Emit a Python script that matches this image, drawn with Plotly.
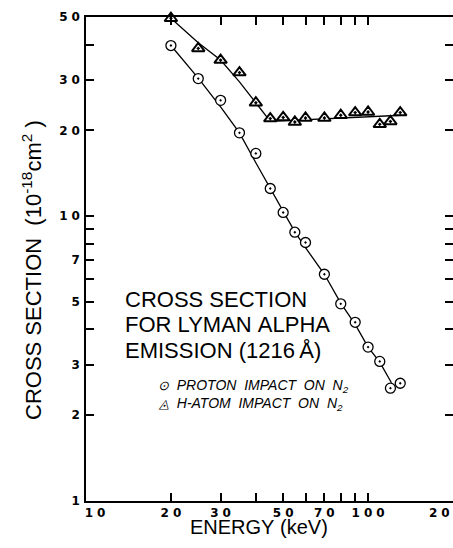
import math
import plotly.graph_objects as go

# Lyman-alpha emission cross sections (1e-18 cm^2) versus impact energy (keV)
energy_kev = [20, 25, 30, 35, 40, 45, 50, 55, 60, 70, 80, 90, 100, 110, 120, 130]
proton_xs = [39.7, 30.4, 25.5, 19.6, 16.6, 12.5, 10.3, 8.78, 8.08, 6.25, 4.92, 4.24, 3.47, 3.09, 2.49, 2.59]
h_atom_xs = [49.5, 38.8, 35.3, 31.9, 25.0, 22.0, 22.2, 21.4, 22.1, 22.1, 22.6, 23.1, 23.2, 21.0, 21.5, 23.1]

# Smooth curves drawn through each data set
proton_fit_kev = [20, 25, 30, 35, 40, 45, 50, 55, 60, 70, 80, 90, 100, 110, 121]
proton_fit_xs = [39.7, 30.5, 24.2, 19.6, 15.4, 12.5, 10.3, 8.8, 7.75, 6.25, 4.95, 4.17, 3.47, 3.07, 2.6]
h_fit_kev = [20, 25, 30, 35, 40, 45, 131]
h_fit_xs = [49.5, 40.6, 35.3, 29.6, 25.0, 21.5, 22.6]

# Axis ticks
x_tick_vals = [10, 20, 30, 50, 70, 100, 200]
x_tick_labels = ["10", "20", "30", "50", "70", "100", "200"]
x_minor_vals = [40, 60, 80, 90]
y_tick_vals = [1, 2, 3, 5, 7, 10, 20, 30, 50]
y_tick_labels = ["1", "2", "3", "5", "7", "10", "20", "30", "50"]
y_minor_vals = [4, 6, 8, 9, 40]

GAP = "\u2004"
NB = "\u00a0"


def spaced(label):
    # wide, hand-lettered look for the numerals
    return GAP.join(label)


# the end labels sit a little inside the frame corners
x_text = [spaced(t) for t in x_tick_labels]
x_text[0] = "\u2002" * 3 + x_text[0]
x_text[-1] = ""
y_text = [spaced(t) for t in y_tick_labels]

W, H = 453, 548
L, R, T, B = 86, 0, 17, 47
PW, PH = W - L - R, H - T - B


def px(xp):
    return (xp - L) / PW


def py(yp):
    return (H - B - yp) / PH


fig = go.Figure()

fig.add_trace(go.Scatter(
    x=proton_fit_kev, y=proton_fit_xs, mode="lines",
    line=dict(color="black", width=1.3), yaxis="y", showlegend=False,
))
fig.add_trace(go.Scatter(
    x=h_fit_kev, y=h_fit_xs, mode="lines",
    line=dict(color="black", width=1.3), yaxis="y", showlegend=False,
))
fig.add_trace(go.Scatter(
    x=energy_kev, y=proton_xs, mode="markers", yaxis="y2", cliponaxis=False,
    marker=dict(symbol="circle-dot", size=10, color="white",
                line=dict(color="black", width=1.3)),
    showlegend=False,
))
fig.add_trace(go.Scatter(
    x=energy_kev, y=h_atom_xs, mode="markers", yaxis="y2", cliponaxis=False,
    marker=dict(symbol="triangle-up-dot", size=11, color="white",
                line=dict(color="black", width=2)),
    showlegend=False,
))

tick_font = dict(family="DejaVu Sans", size=12, color="black", weight="bold")
axis_common = dict(
    type="log", showgrid=False, zeroline=False, ticks="inside", ticklen=8,
    tickwidth=1.5, tickcolor="black", tickfont=tick_font, automargin=False,
)

fig.update_layout(
    width=W, height=H,
    margin=dict(l=L, r=R, t=T, b=B, pad=0, autoexpand=False),
    paper_bgcolor="white", plot_bgcolor="white",
    font=dict(family="Liberation Sans", color="black"),
    xaxis=dict(
        **axis_common,
        range=[1, math.log10(200)],
        tickmode="array", tickvals=x_tick_vals, ticktext=x_text,
        ticklabeloverflow="allow",
        showline=True, linewidth=1.5, linecolor="black", mirror="ticks",
        minor=dict(tickmode="array", tickvals=x_minor_vals, ticks="inside",
                   ticklen=8, tickwidth=1.5, tickcolor="black", showgrid=False),
    ),
    yaxis=dict(
        **axis_common,
        range=[0, math.log10(50)],
        tickmode="array", tickvals=y_tick_vals, ticktext=y_text,
        ticklabelstandoff=2,
        showline=True, linewidth=1.5, linecolor="black",
        minor=dict(tickmode="array", tickvals=y_minor_vals, ticks="inside",
                   ticklen=8, tickwidth=1.5, tickcolor="black", showgrid=False),
    ),
    yaxis2=dict(
        **axis_common,
        overlaying="y", side="right",
        range=[0, math.log10(50)],
        tickmode="array", tickvals=sorted(y_tick_vals + y_minor_vals),
        showticklabels=False, showline=False,
    ),
)

big = dict(family="Liberation Sans", size=22, color="black")
legend_font = dict(family="Liberation Sans", size=14, color="black", style="italic")

annotations = [
    dict(text=spaced(x_tick_labels[-1]), x=px(427), y=py(513), xanchor="left", font=tick_font),
    dict(text="ENERGY" + NB + "(keV)", x=px(259), y=py(527), font=dict(family="Liberation Sans", size=20, color="black")),
    dict(text="CROSS" + NB + "SECTION" + NB * 2 + "(10<sup>-18</sup>cm<sup>2</sup>" + NB + ")",
         x=px(32), y=py(270), textangle=-90, font=big),
    dict(text="CROSS" + NB + "SECTION", x=px(123), y=py(299), xanchor="left", font=big),
    dict(text="FOR" + NB + "LYMAN" + NB + "ALPHA", x=px(123), y=py(324.5), xanchor="left", font=big),
    dict(text="EMISSION" + NB + "(1216\u2009Å)", x=px(123), y=py(350), xanchor="left", font=big),
    dict(text="<span style='font-size:13px'>⊙</span>" + NB * 2 + "PROTON" + NB * 2 + "IMPACT" + NB * 2 + "ON" + NB * 2 + "N<sub>2</sub>",
         x=px(156), y=py(386), xanchor="left", font=legend_font),
    dict(text="<span style='font-size:13px'>◬</span>" + NB * 2 + "H-ATOM" + NB * 2 + "IMPACT" + NB * 2 + "ON" + NB * 2 + "N<sub>2</sub>",
         x=px(156), y=py(404), xanchor="left", font=legend_font),
]
for a in annotations:
    a.setdefault("xanchor", "center")
    a.setdefault("yanchor", "middle")
    fig.add_annotation(xref="paper", yref="paper", showarrow=False, **a)

fig.write_html("out.html")
